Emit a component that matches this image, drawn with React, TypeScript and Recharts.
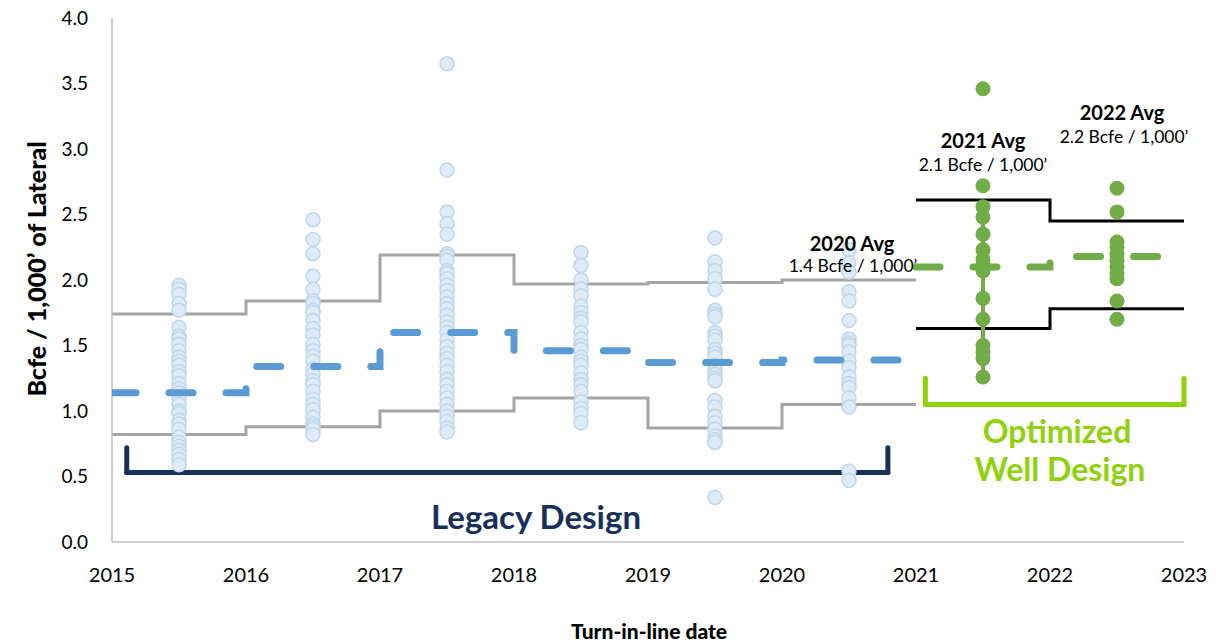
import React from 'react';
import { ComposedChart, Line, Scatter, XAxis, YAxis, ReferenceLine } from 'recharts';

// legacy design years (step lines start at each year)
const YEARS = [2015, 2016, 2017, 2018, 2019, 2020];
const LEGACY_HIGH = [1.74, 1.84, 2.19, 1.97, 1.98, 2.0];
const LEGACY_LOW = [0.82, 0.88, 1.0, 1.1, 0.87, 1.05];
const LEGACY_AVG = [1.14, 1.34, 1.6, 1.46, 1.37, 1.39];

// optimized well design years
const OPT_YEARS = [2021, 2022];
const OPT_HIGH = [2.61, 2.45];
const OPT_LOW = [1.63, 1.78];
const OPT_AVG = [2.1, 2.18];

// individual wells, Bcfe / 1,000'
const WELLS_2015 = [1.96, 1.93, 1.89, 1.82, 1.77, 1.64, 1.57, 1.55, 1.51, 1.46, 1.41, 1.38, 1.35, 1.3, 1.27, 1.21, 1.17, 1.14, 1.1, 1.05, 1.0, 0.98, 0.93, 0.9, 0.86, 0.8, 0.76, 0.73, 0.7, 0.67, 0.63, 0.59];
const WELLS_2016 = [2.46, 2.31, 2.2, 2.03, 1.93, 1.84, 1.82, 1.77, 1.75, 1.69, 1.63, 1.58, 1.51, 1.46, 1.42, 1.38, 1.32, 1.28, 1.23, 1.2, 1.15, 1.09, 1.05, 1.01, 0.95, 0.9, 0.88, 0.86, 0.82];
const WELLS_2017 = [3.65, 2.84, 2.52, 2.43, 2.35, 2.2, 2.18, 2.15, 2.07, 2.05, 2.01, 1.96, 1.92, 1.87, 1.82, 1.78, 1.73, 1.68, 1.64, 1.6, 1.54, 1.49, 1.44, 1.4, 1.35, 1.3, 1.24, 1.2, 1.15, 1.1, 1.05, 1.0, 0.96, 0.92, 0.87, 0.84];
const WELLS_2018 = [2.21, 2.11, 2.0, 1.93, 1.88, 1.8, 1.75, 1.71, 1.68, 1.6, 1.55, 1.5, 1.47, 1.41, 1.38, 1.35, 1.29, 1.24, 1.2, 1.15, 1.07, 1.02, 0.98, 0.91];
const WELLS_2019 = [2.32, 2.14, 2.07, 2.01, 1.93, 1.77, 1.74, 1.72, 1.6, 1.57, 1.54, 1.47, 1.44, 1.41, 1.35, 1.31, 1.28, 1.25, 1.23, 1.08, 1.03, 0.96, 0.91, 0.86, 0.81, 0.78, 0.76, 0.34];
const WELLS_2020 = [2.23, 2.13, 2.06, 1.91, 1.84, 1.69, 1.55, 1.52, 1.5, 1.45, 1.38, 1.33, 1.26, 1.21, 1.18, 1.1, 1.03, 0.54, 0.47];
const WELLS_2021 = [3.46, 2.72, 2.56, 2.48, 2.35, 2.23, 2.16, 2.12, 2.07, 1.86, 1.7, 1.5, 1.45, 1.4, 1.26];
const WELLS_2022 = [2.7, 2.52, 2.29, 2.25, 2.2, 2.15, 2.1, 2.05, 2.01, 1.84, 1.7];

const X_TICKS = [2015, 2016, 2017, 2018, 2019, 2020, 2021, 2022, 2023];
const Y_TICKS = [0, 0.5, 1, 1.5, 2, 2.5, 3, 3.5, 4];

const steps = (xs: number[], ys: number[], end: number) =>
  [...xs.map((x, i) => ({ x, y: ys[i] })), { x: end, y: ys[ys.length - 1] }];

const wells = (year: number, vals: number[]) => vals.map((y) => ({ x: year + 0.5, y }));

const legacyWells = [
  ...wells(2015, WELLS_2015),
  ...wells(2016, WELLS_2016),
  ...wells(2017, WELLS_2017),
  ...wells(2018, WELLS_2018),
  ...wells(2019, WELLS_2019),
  ...wells(2020, WELLS_2020),
];
const optWells = [...wells(2021, WELLS_2021), ...wells(2022, WELLS_2022)];

const NAVY = '#17305A';
const LIME = '#8FD10A';
const FONT = 'Lato, "Open Sans", sans-serif';

const BlueDot = (p: any) => (
  <circle cx={p.cx} cy={p.cy} r={7} fill="#DEEAF6" stroke="#BDD7EE" strokeWidth={1.5} />
);
const GreenDot = (p: any) => <circle cx={p.cx} cy={p.cy} r={7.5} fill="#70AD47" />;

const Note = ({ x, y, size, bold, color, children }: any) => (
  <div
    style={{
      position: 'absolute', left: x, top: y, transform: 'translate(-50%, -50%)',
      fontFamily: FONT, fontSize: size, fontWeight: bold ? 700 : 400, color: color || '#000',
      whiteSpace: 'nowrap', lineHeight: 1,
    }}
  >
    {children}
  </div>
);

export default function App() {
  const seg = (x1: number, y1: number, x2: number, y2: number, color: string, key: string) => (
    <ReferenceLine
      key={key}
      segment={[{ x: x1, y: y1 }, { x: x2, y: y2 }]}
      stroke={color}
      strokeWidth={5}
      strokeLinecap="round"
      ifOverflow="visible"
    />
  );

  return (
    <div style={{ position: 'absolute', left: 0, top: 0, width: 1216, height: 644, background: '#fff' }}>
      <ComposedChart width={1216} height={644} margin={{ top: 18, right: 32, bottom: 62, left: 52 }}>
        <XAxis
          type="number" dataKey="x" domain={[2015, 2023]} ticks={X_TICKS} allowDataOverflow
          axisLine={{ stroke: '#BFBFBF', strokeWidth: 1.5 }} tickLine={false} tickSize={0} tickMargin={26}
          height={40} tick={{ fill: '#000', fontSize: 20, fontFamily: FONT }}
        />
        <YAxis
          type="number" dataKey="y" domain={[0, 4]} ticks={Y_TICKS} width={60}
          axisLine={{ stroke: '#BFBFBF', strokeWidth: 1.5 }} tickLine={false} tickSize={0} tickMargin={24}
          tickFormatter={(v: number) => v.toFixed(1)}
          tick={{ fill: '#000', fontSize: 19, fontFamily: FONT }}
        />

        <Line data={steps(YEARS, LEGACY_HIGH, 2021)} dataKey="y" type="stepAfter" stroke="#A5A5A5" strokeWidth={3} dot={false} isAnimationActive={false} />
        <Line data={steps(YEARS, LEGACY_LOW, 2021)} dataKey="y" type="stepAfter" stroke="#A5A5A5" strokeWidth={3} dot={false} isAnimationActive={false} />
        <Line data={steps(OPT_YEARS, OPT_HIGH, 2023)} dataKey="y" type="stepAfter" stroke="#000" strokeWidth={3} dot={false} isAnimationActive={false} />
        <Line data={steps(OPT_YEARS, OPT_LOW, 2023)} dataKey="y" type="stepAfter" stroke="#000" strokeWidth={3} dot={false} isAnimationActive={false} />

        <Scatter data={legacyWells} dataKey="y" shape={BlueDot} isAnimationActive={false} />
        <Line data={wells(2021, WELLS_2021.slice(2))} dataKey="y" stroke="#70AD47" strokeWidth={4} dot={false} isAnimationActive={false} />
        <Scatter data={optWells} dataKey="y" shape={GreenDot} isAnimationActive={false} />

        <Line data={steps(YEARS, LEGACY_AVG, 2021)} dataKey="y" type="stepAfter" stroke="#5B9BD5" strokeWidth={7} strokeDasharray="24 33" strokeLinecap="round" dot={false} isAnimationActive={false} zIndex={700} />
        <Line data={steps(OPT_YEARS, OPT_AVG, 2023)} dataKey="y" type="stepAfter" stroke="#70AD47" strokeWidth={7} strokeDasharray="24 33" strokeLinecap="round" dot={false} isAnimationActive={false} zIndex={700} />

        {seg(2015.11, 0.53, 2020.79, 0.53, NAVY, 'l1')}
        {seg(2015.11, 0.53, 2015.11, 0.72, NAVY, 'l2')}
        {seg(2020.79, 0.53, 2020.79, 0.72, NAVY, 'l3')}
        {seg(2021.07, 1.05, 2023.0, 1.05, LIME, 'o1')}
        {seg(2021.07, 1.05, 2021.07, 1.25, LIME, 'o2')}
        {seg(2023.0, 1.05, 2023.0, 1.25, LIME, 'o3')}
      </ComposedChart>

      <div
        style={{
          position: 'absolute', left: 36, top: 269, transform: 'translate(-50%, -50%) rotate(-90deg)',
          fontFamily: FONT, fontSize: 25, fontWeight: 900, whiteSpace: 'nowrap', lineHeight: 1,
        }}
      >
        Bcfe / 1,000’ of Lateral
      </div>
      <div
        style={{
          position: 'absolute', left: 649, top: 630, transform: 'translate(-50%, -50%)',
          fontFamily: FONT, fontSize: 21, fontWeight: 900, whiteSpace: 'nowrap', lineHeight: 1,
        }}
      >
        Turn-in-line date
      </div>

      <Note x={852} y={243} size={20} bold>2020 Avg</Note>
      <Note x={853} y={266} size={17.5}>1.4 Bcfe / 1,000’</Note>
      <Note x={983} y={140} size={20} bold>2021 Avg</Note>
      <Note x={983} y={165} size={17.5}>2.1 Bcfe / 1,000’</Note>
      <Note x={1122} y={112} size={20} bold>2022 Avg</Note>
      <Note x={1124} y={137} size={17.5}>2.2 Bcfe / 1,000’</Note>

      <Note x={536} y={516} size={33} bold color={NAVY}>Legacy Design</Note>
      <Note x={1057} y={431} size={32} bold color={LIME}>Optimized</Note>
      <Note x={1060} y={469} size={32} bold color={LIME}>Well Design</Note>
    </div>
  );
}
